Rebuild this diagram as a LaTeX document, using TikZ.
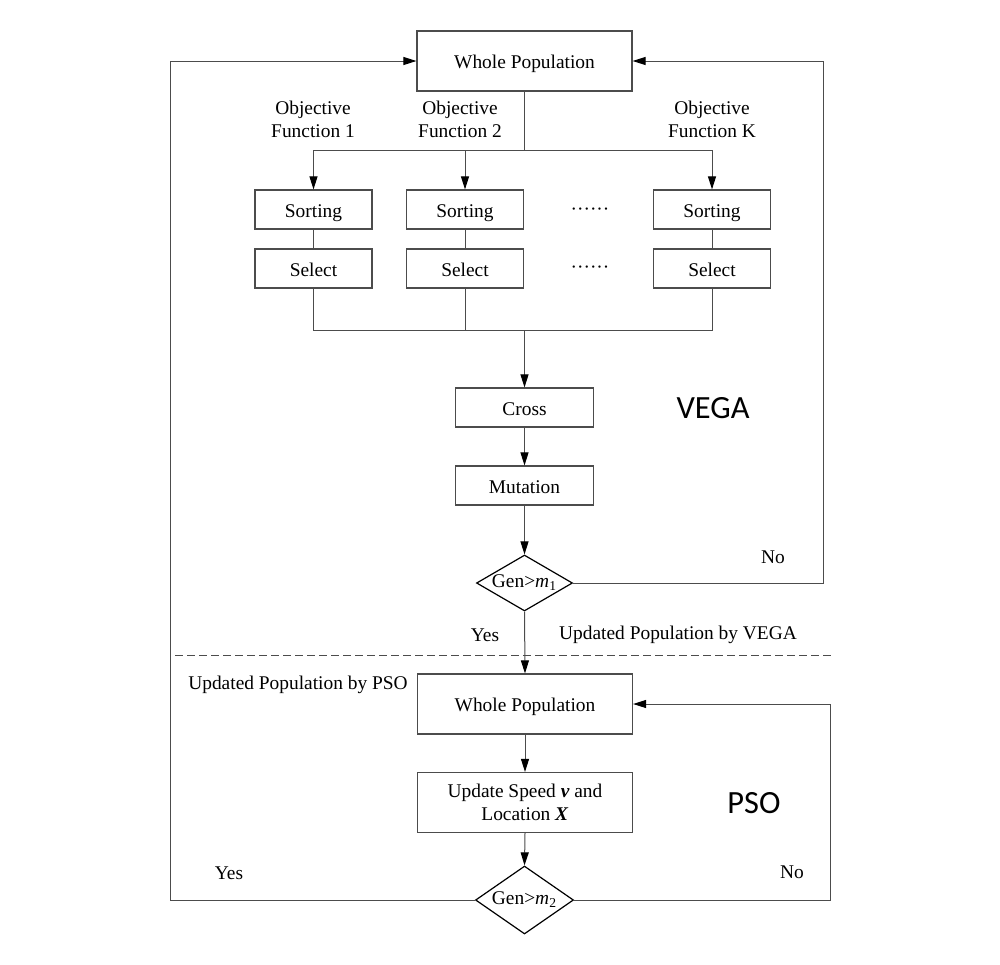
\documentclass[tikz,border=0pt]{standalone}
\usepackage{fontspec}
\setmainfont{Liberation Serif}
\newfontfamily\labelsans{Carlito}
\usetikzlibrary{arrows.meta,shapes.geometric,calc}
\begin{document}
\begin{tikzpicture}[x=0.5pt,y=-0.5pt,
  font=\fontsize{9.7}{11.5}\selectfont,
  line/.style={draw=black!70,line width=0.5pt},
  arr/.style={line,-{Triangle[length=6.5pt,width=4pt,color=black]}},
  box/.style={draw=black!70,line width=0.6pt,inner sep=0pt,align=center,text height=8pt,text depth=0.4pt},
  bigbox/.style={box,minimum width=107.5pt,minimum height=30pt},
  smallbox/.style={box,minimum width=58.5pt,minimum height=19.5pt},
  midbox/.style={box,minimum width=69pt,minimum height=19.5pt},
  decide/.style={diamond,draw=black,line width=0.6pt,inner sep=0pt,shape aspect=1.71},
  lbl/.style={inner sep=1pt,align=center},
  big/.style={font=\labelsans\fontsize{16.2}{18}\selectfont}]
\useasboundingbox (0,0) rectangle (1000,964);

% VEGA part
\node[bigbox] (top) at (524.5,61) {Whole Population};
\node[lbl] (of1) at (313,119.5) {Objective\\Function 1};
\node[lbl] (of2) at (460,119.5) {Objective\\Function 2};
\node[lbl] (ofK) at (712,119.5) {Objective\\Function K};

\node[smallbox] (so1) at (313.5,209.5) {Sorting};
\node[smallbox] (so2) at (465,209.5) {Sorting};
\node[smallbox] (soK) at (712,209.5) {Sorting};
\node[lbl] (dots1) at (590,212) {······};
\node[smallbox] (se1) at (313.5,268.5) {Select};
\node[smallbox] (se2) at (465,268.5) {Select};
\node[smallbox] (seK) at (712,268.5) {Select};
\node[lbl] (dots2) at (590,270) {······};

\node[midbox] (cross) at (524.5,407.5) {Cross};
\node[midbox] (mut) at (524.5,485.5) {Mutation};
\node[decide,minimum width=48pt,minimum height=28pt] (d1) at (524.5,583) {Gen>\textit{m}\textsubscript{1}};

\node[big] (vega) at (713,408) {VEGA};
\node[lbl] (no1) at (773,557) {No};
\node[lbl] (yes1) at (485,635) {Yes};
\node[lbl] (upv) at (678,635) {Updated Population by VEGA};

% PSO part
\node[bigbox] (pwp) at (525,704) {Whole Population};
\node[bigbox,text height=,text depth=] (upd) at (525,802.5) {Update Speed \textbf{\textit{v}} and\\Location \textbf{\textit{X}}};
\node[decide,minimum width=49pt,minimum height=34pt] (d2) at (524.5,900) {Gen>\textit{m}\textsubscript{2}};
\node[lbl] (upp) at (298,685) {Updated Population by PSO};
\node[big] (pso) at (754,803) {PSO};
\node[lbl] (yes2) at (229,873) {Yes};
\node[lbl] (no2) at (792,872) {No};

% coordinates
\coordinate (split) at (524.5,150);
\coordinate (merge) at (524.5,330);
\coordinate (lc) at (170,900);
\coordinate (rc1) at (823,583);
\coordinate (rc2) at (830,900);
\coordinate (dl) at (175,655);
\coordinate (dr) at (832,655);

% connectors
\draw[line] (top.south) -- (split);
\draw[line] (so1.north |- split) -- (soK.north |- split);
\draw[arr] (so1.north |- split) -- (so1.north);
\draw[arr] (so2.north |- split) -- (so2.north);
\draw[arr] (soK.north |- split) -- (soK.north);
\draw[line] (so1.south) -- (se1.north);
\draw[line] (so2.south) -- (se2.north);
\draw[line] (soK.south) -- (seK.north);
\draw[line] (se1.south) -- (se1.south |- merge) -- (seK.south |- merge) -- (seK.south);
\draw[line] (se2.south) -- (se2.south |- merge);
\draw[arr] (merge) -- (cross.north);
\draw[arr] (cross.south) -- (mut.north);
\draw[arr] (mut.south) -- (d1.north);
\draw[arr] (d1.east) -- (rc1) |- (top.east);
\draw[arr] (d1.south) -- (pwp.north);
\draw[line,dash pattern=on 4pt off 2pt] (dl) -- (dr);
\draw[arr] (pwp.south) -- (upd.north);
\draw[arr] (upd.south) -- (d2.north);
\draw[arr] (d2.east) -- (rc2) |- (pwp.east);
\draw[arr] (d2.west) -- (lc) |- (top.west);
\end{tikzpicture}
\end{document}
